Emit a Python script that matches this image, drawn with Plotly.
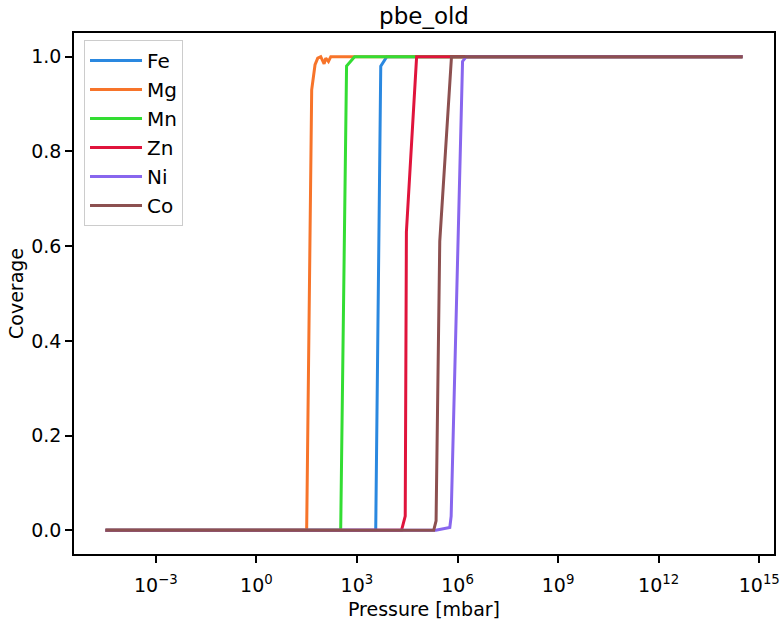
import plotly.graph_objects as go

# Series data: log10(pressure / mbar) and coverage
names = ["Fe", "Mg", "Mn", "Zn", "Ni", "Co"]

fe_logp = [-4.5, 3.56, 3.71, 3.89, 14.5]
fe_cov = [0.0, 0.0, 0.98, 1.0, 1.0]

mg_logp = [-4.5, 1.50, 1.65, 1.75, 1.83, 1.92, 2.02, 2.07, 2.15, 2.22, 14.5]
mg_cov = [0.0, 0.0, 0.93, 0.983, 0.997, 1.0, 0.985, 0.997, 0.99, 1.0, 1.0]

mn_logp = [-4.5, 2.515, 2.69, 2.93, 14.5]
mn_cov = [0.0, 0.0, 0.98, 1.0, 1.0]

zn_logp = [-4.5, 4.33, 4.44, 4.475, 4.78, 14.5]
zn_cov = [0.0, 0.0, 0.03, 0.63, 1.0, 1.0]

ni_logp = [-4.5, 5.35, 5.77, 5.81, 6.15, 6.26, 14.5]
ni_cov = [0.0, 0.0, 0.006, 0.03, 0.99, 1.0, 1.0]

co_logp = [-4.5, 5.29, 5.36, 5.47, 5.82, 14.5]
co_cov = [0.0, 0.0, 0.02, 0.61, 1.0, 1.0]

colors = ["#2a88e0", "#f7742a", "#33dd33", "#e0143c", "#8866ee", "#8c5050"]

x_exponents = [-3, 0, 3, 6, 9, 12, 15]
y_ticks = [0.0, 0.2, 0.4, 0.6, 0.8, 1.0]

series = [
    (fe_logp, fe_cov),
    (mg_logp, mg_cov),
    (mn_logp, mn_cov),
    (zn_logp, zn_cov),
    (ni_logp, ni_cov),
    (co_logp, co_cov),
]

FONT = "DejaVu Sans"
fig = go.Figure()
for name, (lp, cov), col in zip(names, series, colors):
    fig.add_trace(go.Scatter(
        x=[10 ** v for v in lp], y=cov, mode="lines", name=name,
        line=dict(color=col, width=3),
    ))

fig.update_layout(
    width=782, height=624,
    margin=dict(l=74, r=8, t=33, b=70, autoexpand=False),
    paper_bgcolor="white", plot_bgcolor="white",
    font=dict(family=FONT, size=19, color="black"),
    title=dict(text="pbe_old", x=0.5, xref="paper", xanchor="center",
               y=0.987, yref="container", yanchor="top",
               font=dict(family=FONT, size=23, color="black")),
    showlegend=True,
    legend=dict(x=0.0143, y=0.9866, xanchor="left", yanchor="top",
                bgcolor="rgba(255,255,255,0.8)", bordercolor="#cccccc",
                borderwidth=1, font=dict(family=FONT, size=20),
                itemwidth=52),
)

fig.update_xaxes(
    type="log", range=[-5.44, 15.44], automargin=False,
    tickvals=[10 ** e for e in x_exponents],
    ticktext=["10<sup>%s</sup>" % (str(e).replace("-", "\u2212")) for e in x_exponents],
    tickfont=dict(family=FONT, size=19), ticklabelstandoff=6,
    showline=True, mirror=True, linecolor="black", linewidth=1.6,
    ticks="outside", ticklen=7, tickwidth=1.6, tickcolor="black",
    showgrid=False, zeroline=False,
    title=dict(text="Pressure [mbar]", font=dict(family=FONT, size=19), standoff=8),
)
fig.update_yaxes(
    range=[-0.05, 1.05], tickvals=y_ticks, tickformat=".1f", automargin=False,
    showline=True, mirror=True, linecolor="black", linewidth=1.6,
    ticks="outside", ticklen=7, tickwidth=1.6, tickcolor="black",
    showgrid=False, zeroline=False,
    title=dict(text="Coverage", font=dict(family=FONT, size=19), standoff=3),
)

fig.write_html(
    "out.html",
    config={"displayModeBar": False},
    post_script="document.body.style.margin='0px';document.body.style.overflow='hidden';",
)
